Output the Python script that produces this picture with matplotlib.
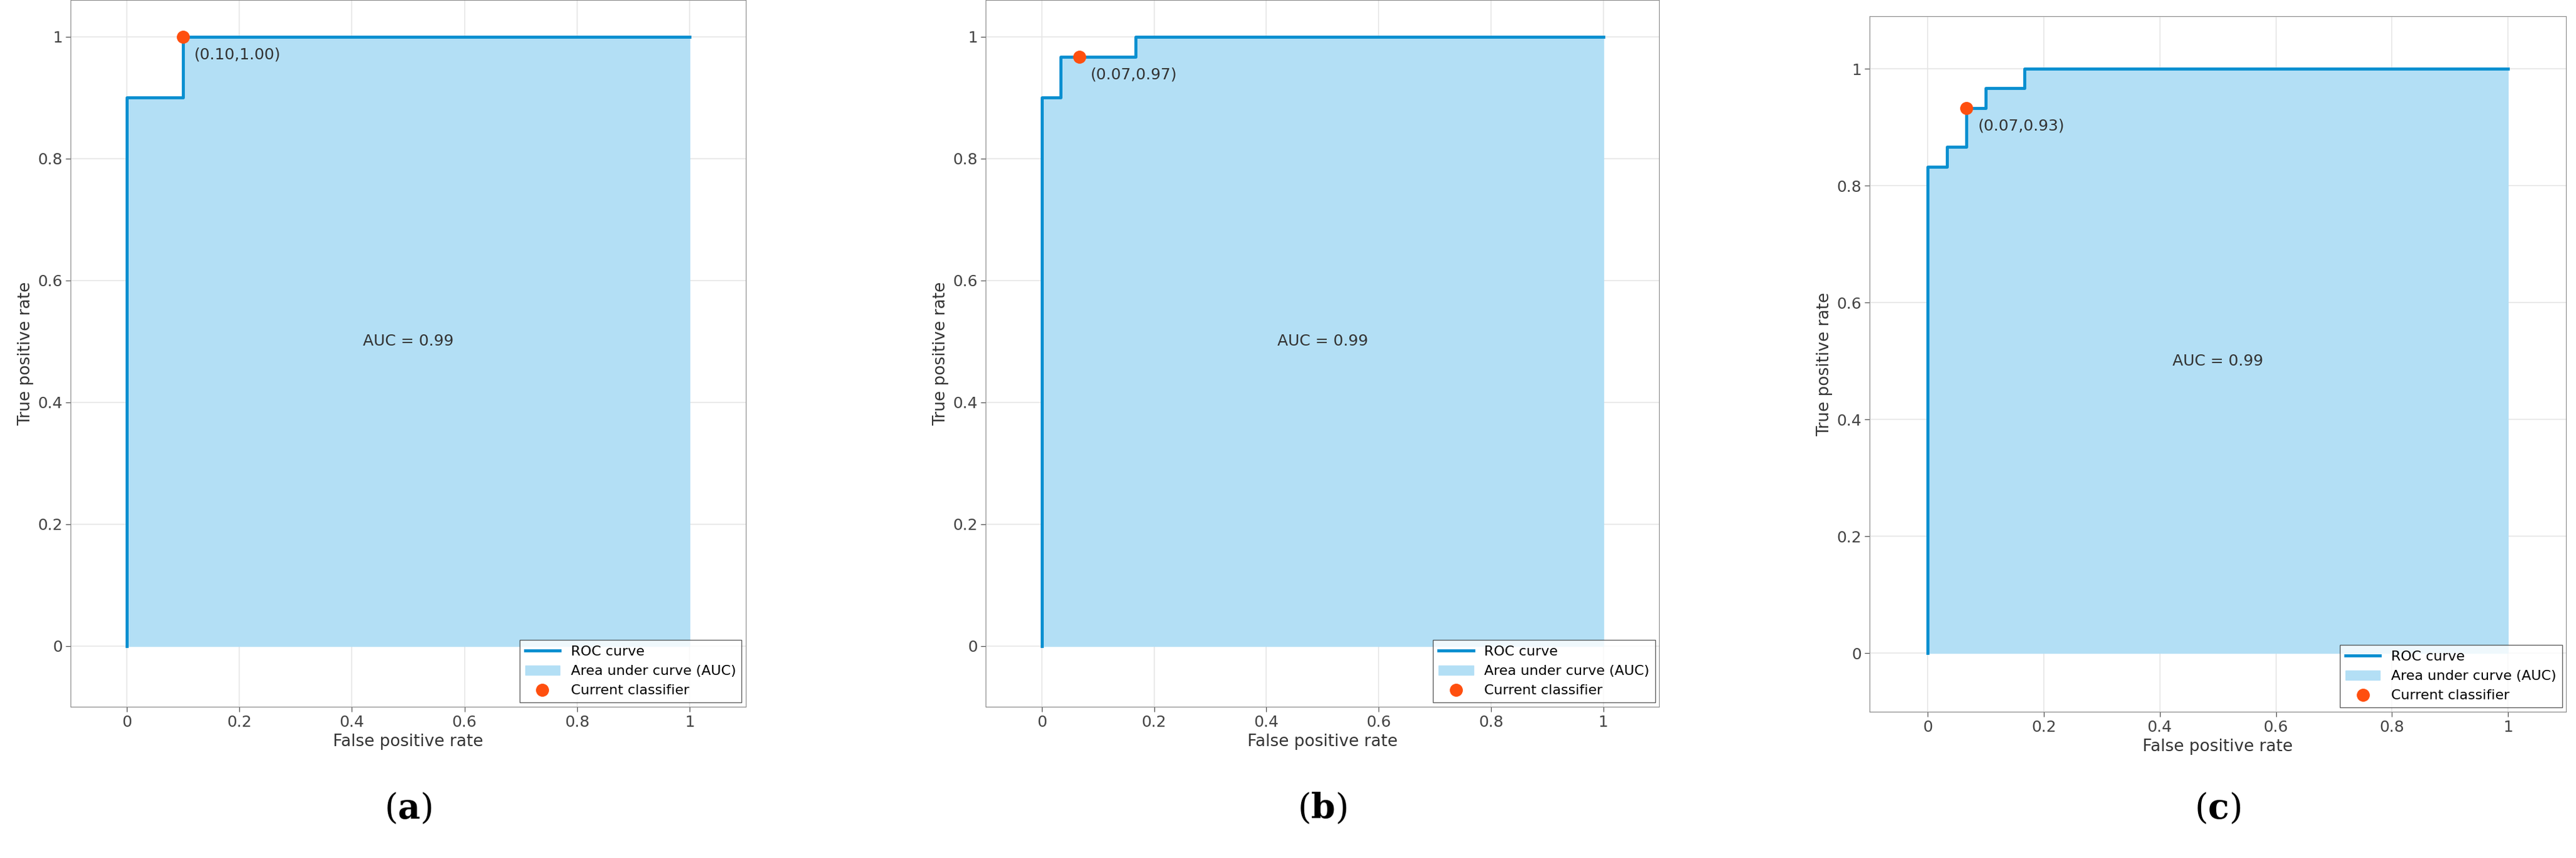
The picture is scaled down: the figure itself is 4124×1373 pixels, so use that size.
import matplotlib.pyplot as plt

plt.rcParams['mathtext.fontset'] = 'dejavuserif'

# ROC step curves
fpr_a = [0, 0, 0.1, 0.1, 1]
tpr_a = [0, 0.9, 0.9, 1.0, 1.0]
fpr_b = [0, 0, 0.033, 0.033, 0.167, 0.167, 1]
tpr_b = [0, 0.9, 0.9, 0.967, 0.967, 1.0, 1.0]
fpr_c = [0, 0, 0.033, 0.033, 0.067, 0.067, 0.1, 0.1, 0.167, 0.167, 1]
tpr_c = [0, 0.833, 0.833, 0.867, 0.867, 0.933, 0.933, 0.967, 0.967, 1.0, 1.0]
points = [(0.10, 1.00), (0.067, 0.967), (0.067, 0.933)]
point_labels = ['(0.10,1.00)', '(0.07,0.97)', '(0.07,0.93)']
auc = [0.99, 0.99, 0.99]
captions = ['a', 'b', 'c']

W, H = 1568, 522
boxes = [(43, 454, 0, 430, 1.06), (600, 1010, 0, 430, 1.06), (1138, 1562, 10, 433, 1.09)]
curves = [(fpr_a, tpr_a), (fpr_b, tpr_b), (fpr_c, tpr_c)]

fig = plt.figure(figsize=(41.24, 13.73), dpi=100)
for i, (x0, x1, y0, y1, ytop) in enumerate(boxes):
    ax = fig.add_axes([x0 / W, 1 - y1 / H, (x1 - x0) / W, (y1 - y0) / H])
    fpr, tpr = curves[i]
    ax.fill_between(fpr, tpr, color='#b3dff5', label='Area under curve (AUC)', zorder=1)
    ax.plot(fpr, tpr, color='#0a8fd0', lw=3.5, label='ROC curve', zorder=2)
    px, py = points[i]
    ax.plot(px, py, 'o', color='#ff4f0f', ms=14, label='Current classifier', zorder=3)
    ax.text(px + 0.02, py - 0.03, point_labels[i], fontsize=18, color='#333333', va='center')
    ax.text(0.5, 0.5, 'AUC = %.2f' % auc[i], fontsize=18, color='#333333', ha='center', va='center')
    ax.set_xlim(-0.1, 1.1)
    ax.set_ylim(-0.1, ytop)
    ax.set_xticks([0, 0.2, 0.4, 0.6, 0.8, 1])
    ax.set_xticklabels(['0', '0.2', '0.4', '0.6', '0.8', '1'])
    ax.set_yticks([0, 0.2, 0.4, 0.6, 0.8, 1])
    ax.set_yticklabels(['0', '0.2', '0.4', '0.6', '0.8', '1'])
    ax.tick_params(labelsize=18, colors='#444444', length=6)
    ax.grid(True, color='#e6e6e6', lw=1.2)
    ax.set_axisbelow(True)
    for s in ax.spines.values():
        s.set_color('#888888')
    ax.set_xlabel('False positive rate', fontsize=19, color='#333333')
    ax.set_ylabel('True positive rate', fontsize=19, color='#333333')
    h, l = ax.get_legend_handles_labels()
    order = [1, 0, 2]
    ax.legend([h[k] for k in order], [l[k] for k in order], loc='lower right',
              fontsize=16, frameon=True, fancybox=False, edgecolor='#333333',
              borderaxespad=0.3, handlelength=2.5)
    cx = (x0 + x1) / 2 / W
    fig.text(cx, 1 - 492 / H, r'($\mathbf{%s}$)' % captions[i], fontsize=40,
             family='DejaVu Serif', ha='center', va='center')

fig.savefig('out.png', dpi=100)
